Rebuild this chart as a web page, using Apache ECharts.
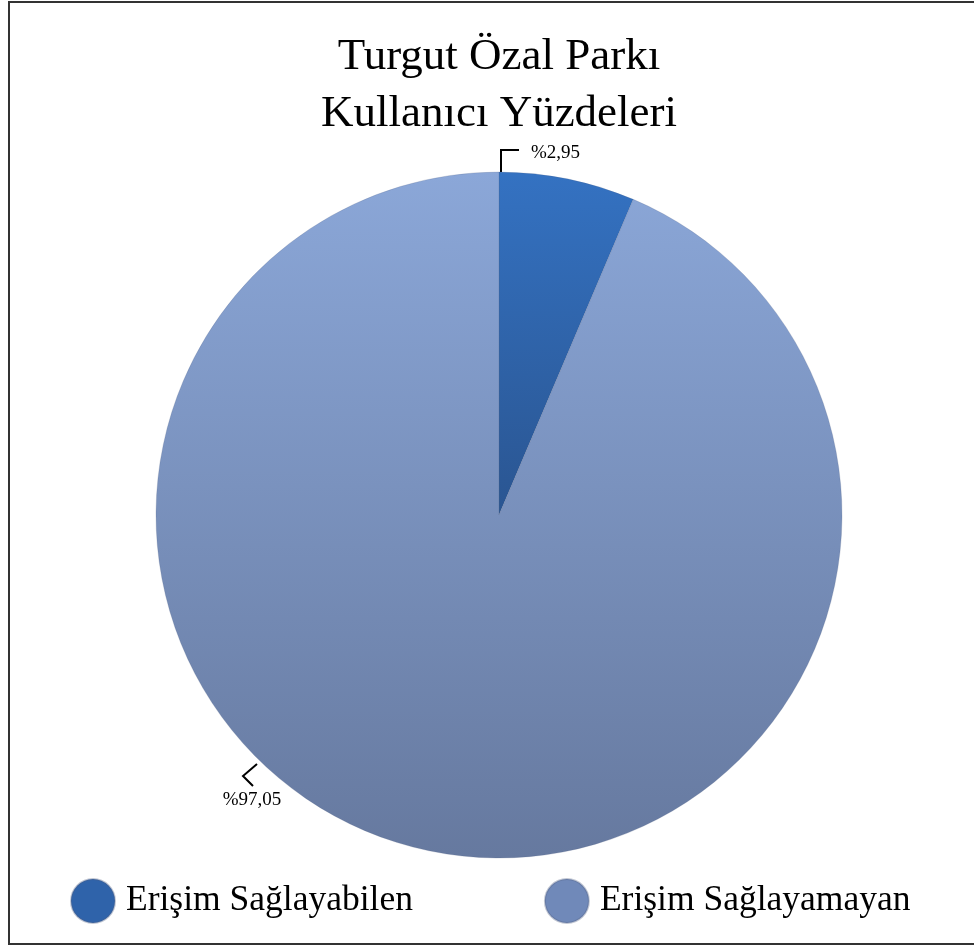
<!DOCTYPE html>
<html>
<head>
<meta charset="utf-8">
<script src="https://cdn.jsdelivr.net/npm/echarts@6/dist/echarts.min.js"></script>
<style>html,body{margin:0;padding:0;background:#fff}#c{width:974px;height:945px}</style>
</head>
<body>
<div id="c"></div>
<script>
// Data
const categories = ['Erişim Sağlayabilen', 'Erişim Sağlayamayan'];
// slice shares as drawn (angles measured in the reference)
const sliceShares = [6.4, 93.6];
// label texts printed on the chart
const labelTexts = ['%2,95', '%97,05'];
const titleText = 'Turgut Özal Parkı\nKullanıcı Yüzdeleri';

const CX = 499, CY = 515, R = 343;
const FONT = '"Liberation Serif", "Times New Roman", serif';

const fills = [
  new echarts.graphic.LinearGradient(0, 0, 0, 1, [{offset: 0, color: '#3472c2'}, {offset: 1, color: '#2a5591'}]),
  new echarts.graphic.LinearGradient(0, 0, 0, 1, [{offset: 0, color: '#8ba7d8'}, {offset: 1, color: '#66799f'}])
];
const legendColors = ['#2f63aa', '#7089b9'];

const chart = echarts.init(document.getElementById('c'), null, {renderer: 'canvas'});
chart.setOption({
  animation: false,
  backgroundColor: '#ffffff',
  title: {
    text: titleText,
    left: 494,
    textAlign: 'center',
    top: 24,
    textStyle: {fontFamily: FONT, fontSize: 45, fontWeight: 'normal', color: '#000', lineHeight: 57}
  },
  legend: {
    left: 65,
    top: 873,
    itemWidth: 44,
    itemHeight: 44,
    itemGap: 131,
    icon: 'circle',
    data: categories.map((c, i) => ({name: c, itemStyle: {color: legendColors[i]}})),
    textStyle: {fontFamily: FONT, fontSize: 35.5, color: '#000', padding: [0, 0, 0, 6]}
  },
  graphic: [{
    type: 'rect',
    shape: {x: 9, y: 2, width: 980, height: 942},
    style: {fill: 'none', stroke: '#333', lineWidth: 2},
    silent: true
  }],
  series: [{
    type: 'pie',
    center: [CX, CY],
    radius: R,
    startAngle: 90,
    clockwise: true,
    data: categories.map((c, i) => ({name: c, value: sliceShares[i], itemStyle: {color: fills[i]}})),
    itemStyle: {borderColor: 'rgba(80,95,130,0.35)', borderWidth: 0.6},
    emphasis: {disabled: true},
    label: {
      show: true,
      position: 'outside',
      formatter: p => labelTexts[p.dataIndex],
      fontFamily: FONT,
      fontSize: 19,
      color: '#000'
    },
    labelLine: {show: true, length: 10, length2: 10, lineStyle: {color: '#000', width: 2}},
    labelLayout: function (p) {
      if (p.dataIndex === 0) {
        return {
          x: CX + 32, y: CY - R - 19, align: 'left', verticalAlign: 'middle',
          labelLinePoints: [[CX + 2, CY - R], [CX + 2, CY - R - 22], [CX + 20, CY - R - 22]]
        };
      }
      return {
        x: CX - 247, y: CY + 285, align: 'center', verticalAlign: 'middle',
        labelLinePoints: [[CX - 242, CY + 249], [CX - 256, CY + 261], [CX - 246, CY + 271]]
      };
    }
  }]
});
</script>
</body>
</html>
